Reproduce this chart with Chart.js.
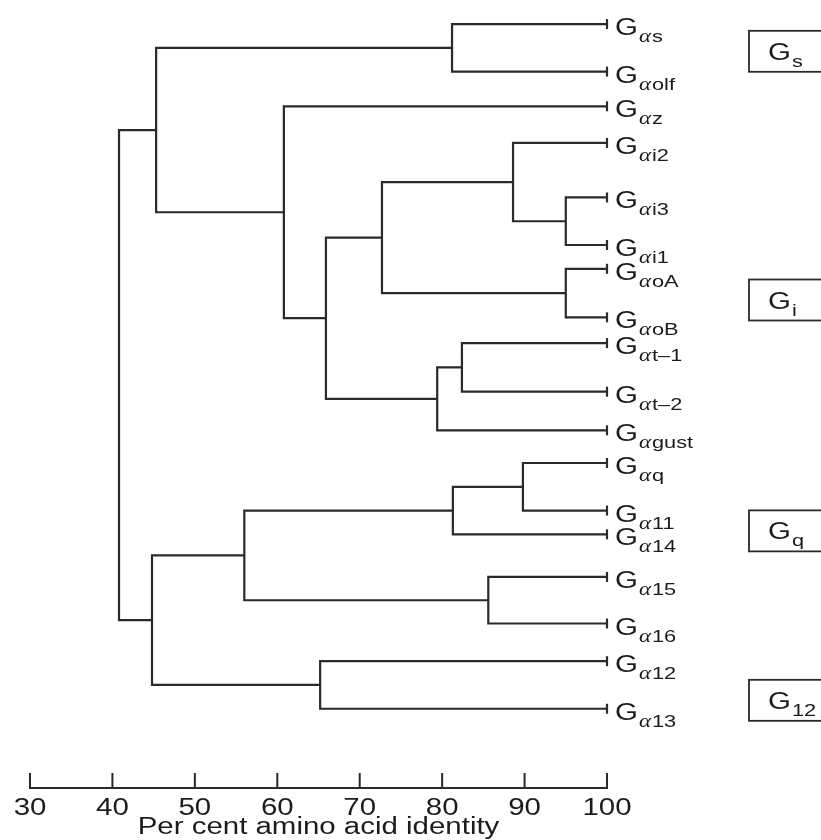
<!DOCTYPE html>
<html>
<head>
<meta charset="utf-8">
<script src="https://cdn.jsdelivr.net/npm/chart.js@4.4.1/dist/chart.umd.min.js"></script>
<style>
  html, body { margin: 0; padding: 0; background: #fff; }
  #wrap { width: 821px; height: 840px; }
</style>
</head>
<body>
<div id="wrap"><canvas id="tree"></canvas></div>
<script>
// G-protein alpha subunits, top to bottom
const subunits = ['s', 'olf', 'z', 'i2', 'i3', 'i1', 'oA', 'oB', 't\u20131', 't\u20132', 'gust',
                  'q', '11', '14', '15', '16', '12', '13'];
// row of each leaf on the (hidden) vertical scale
const leafRow = [17, 65, 100, 137, 192, 240, 264, 313, 339, 388, 427, 460, 508, 532, 575, 622, 660, 708];

// joins: leaves are 0..17, each join gets the next index (18, 19, ...)
const joinA = [0, 4, 3, 6, 20, 8, 23, 22, 2, 18, 11, 28, 14, 29, 16, 31, 27];
const joinB = [1, 5, 19, 7, 21, 9, 10, 24, 25, 26, 12, 13, 15, 30, 17, 32, 33];
const joinIdentity = [81.2, 95.0, 88.6, 95.0, 72.7, 82.4, 79.4, 65.9, 60.8, 45.3,
                      89.8, 81.3, 85.6, 56.0, 65.2, 44.8, 40.8];

// family boxes on the right
const families = ['s', 'i', 'q', '12'];
const familyRow = [44, 295, 528, 699];

const xTicks = [30, 40, 50, 60, 70, 80, 90, 100];
const xTitle = 'Per cent amino acid identity';

const INK = '#2a2a2a';
const TEXT = '#1c1c1c';
const SANS = '"Liberation Sans", Arial, sans-serif';
const WIDE = 1.28;   // the lettering is set wide

// every node gets an x (per cent identity) and a row; joins sit midway between children
const nodeX = subunits.map(() => 100);
const nodeY = leafRow.slice();
const branches = joinA.map((a, k) => {
  const b = joinB[k];
  const h = joinIdentity[k];
  nodeX.push(h);
  nodeY.push((nodeY[a] + nodeY[b]) / 2);
  return {
    data: [
      { x: nodeX[a], y: nodeY[a] },
      { x: h, y: nodeY[a] },
      { x: h, y: nodeY[b] },
      { x: nodeX[b], y: nodeY[b] }
    ],
    showLine: true,
    borderColor: INK,
    borderWidth: 2.2,
    pointRadius: 0,
    tension: 0,
    clip: false
  };
});

const leafTicks = {
  data: leafRow.map(r => ({ x: 100, y: r })),
  pointStyle: 'line',
  rotation: 90,
  pointRadius: 5,
  borderWidth: 2.2,
  borderColor: INK,
  clip: false
};

// draws stretched text, returns its drawn width
function wideText(ctx, text, x, y, font) {
  ctx.font = font;
  const w = ctx.measureText(text).width * WIDE;
  let x0 = x;
  if (ctx.textAlign === 'center') x0 = x - w / 2;
  ctx.save();
  ctx.textAlign = 'left';
  ctx.translate(x0, y);
  ctx.scale(WIDE, 1);
  ctx.fillText(text, 0, 0);
  ctx.restore();
  return w;
}

function drawSub(ctx, x, y, sub) {
  let px = x + wideText(ctx, 'G', x, y, '23px ' + SANS) + 1;
  if (sub.startsWith('\u03b1')) {
    px += wideText(ctx, '\u03b1', px, y + 7, 'italic 18px "Liberation Serif", serif') + 1;
    sub = sub.slice(1);
  }
  wideText(ctx, sub, px, y + 7, '17px ' + SANS);
}

const treeLabels = {
  id: 'treeLabels',
  afterDatasetsDraw(chart) {
    const { ctx, chartArea, scales: { x, y } } = chart;
    const base = chartArea.bottom;
    ctx.save();
    // axis ticks stand up from the baseline
    ctx.strokeStyle = INK;
    ctx.lineWidth = 2;
    x.ticks.forEach(t => {
      const px = x.getPixelForValue(t.value);
      ctx.beginPath();
      ctx.moveTo(px, base);
      ctx.lineTo(px, base - 15);
      ctx.stroke();
    });

    ctx.fillStyle = TEXT;
    ctx.textBaseline = 'alphabetic';
    ctx.textAlign = 'center';
    x.ticks.forEach(t => {
      wideText(ctx, String(t.value), x.getPixelForValue(t.value), base + 27, '23px ' + SANS);
    });
    wideText(ctx, xTitle, (chartArea.left + chartArea.right) / 2, base + 46, '23px ' + SANS);

    ctx.textAlign = 'left';
    const lx = x.getPixelForValue(100) + 8;
    subunits.forEach((s, i) => {
      const py = y.getPixelForValue(leafRow[i]);
      drawSub(ctx, lx, py + 11, '\u03b1' + s);
    });

    const bx = x.getPixelForValue(100) + 142;
    families.forEach((f, i) => {
      const py = y.getPixelForValue(familyRow[i]);
      ctx.lineWidth = 1.8;
      ctx.strokeRect(bx, py - 20, 120, 41);
      drawSub(ctx, bx + 19, py + 9, f);
    });
    ctx.restore();
  }
};

new Chart(document.getElementById('tree'), {
  type: 'scatter',
  data: { datasets: [...branches, leafTicks] },
  options: {
    responsive: true,
    maintainAspectRatio: false,
    animation: false,
    layout: { padding: { left: 30, right: 214, top: 0, bottom: 52 } },
    plugins: { legend: { display: false }, tooltip: { enabled: false } },
    scales: {
      x: {
        type: 'linear',
        min: 30,
        max: 100,
        afterBuildTicks: axis => { axis.ticks = xTicks.map(v => ({ value: v })); },
        grid: { display: false, drawTicks: false },
        border: { display: true, color: INK, width: 2 },
        ticks: { display: false },
        title: { display: false, text: xTitle }
      },
      y: { display: false, reverse: true, min: 0, max: 788 }
    }
  },
  plugins: [treeLabels]
});
</script>
</body>
</html>
